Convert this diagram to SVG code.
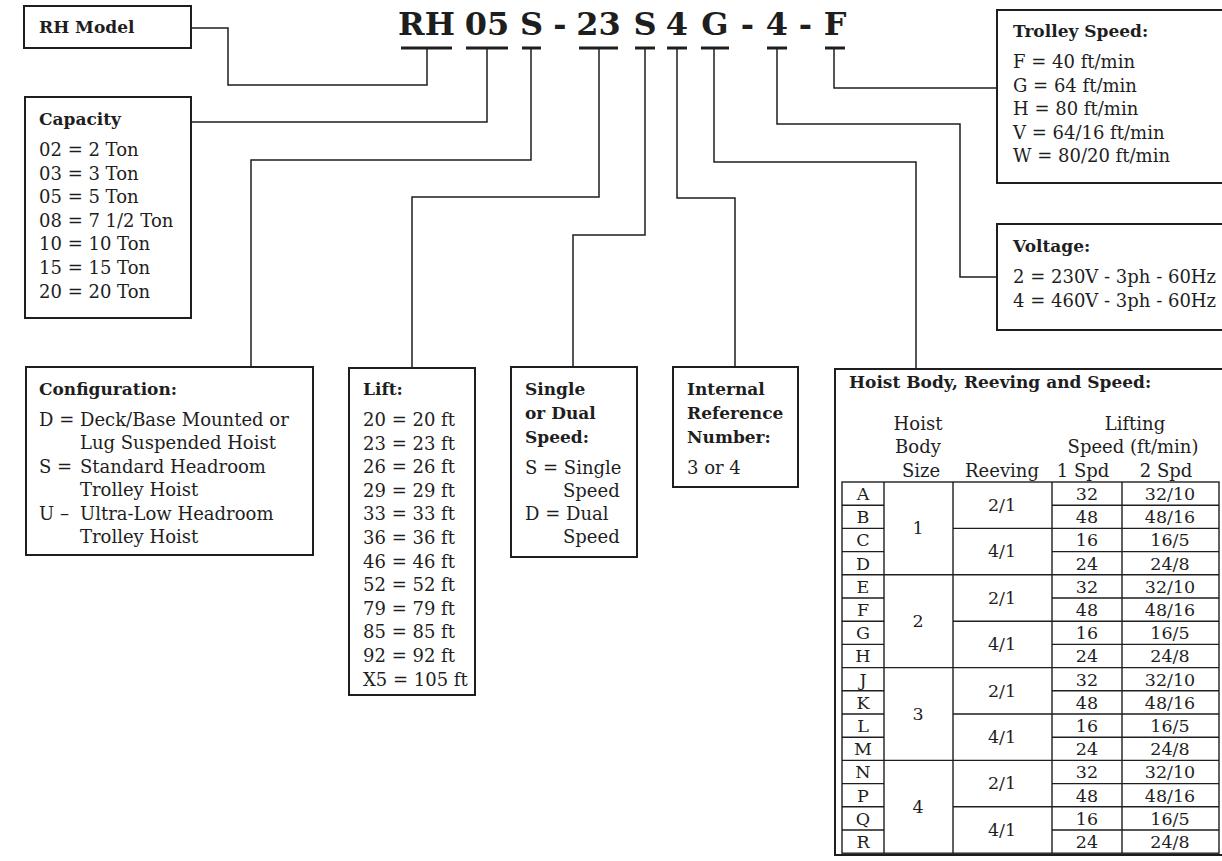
<svg xmlns="http://www.w3.org/2000/svg" width="1222" height="861" viewBox="0 0 1222 861">
<style>
text{font-family:"DejaVu Serif","Liberation Serif",serif;fill:#1e1e1e;font-size:18px}
.code{font-size:32px;font-weight:bold;text-anchor:middle}
.t{font-weight:bold;font-size:17px}
.c{text-anchor:middle}
.cell{text-anchor:middle;font-size:17.5px}
.box{fill:none;stroke:#1e1e1e;stroke-width:2}
.ln{fill:none;stroke:#1e1e1e;stroke-width:1.5}
.ul{stroke:#1e1e1e;stroke-width:3}
.tl{stroke:#1e1e1e;stroke-width:1.4;fill:none}
</style>
<rect width="1222" height="861" fill="#ffffff"/>

<g id="code">
<text class="code" x="426.5" y="35">RH</text>
<text class="code" x="487" y="35">05</text>
<text class="code" x="531.5" y="35">S</text>
<text class="code" x="560" y="35">-</text>
<text class="code" x="598.5" y="35">23</text>
<text class="code" x="645" y="35">S</text>
<text class="code" x="677" y="35">4</text>
<text class="code" x="715" y="35">G</text>
<text class="code" x="747.5" y="35">-</text>
<text class="code" x="777" y="35">4</text>
<text class="code" x="805.5" y="35">-</text>
<text class="code" x="835" y="35">F</text>
<line class="ul" x1="401" y1="48" x2="452" y2="48"/>
<line class="ul" x1="466" y1="48" x2="508" y2="48"/>
<line class="ul" x1="522" y1="48" x2="541" y2="48"/>
<line class="ul" x1="579" y1="48" x2="618" y2="48"/>
<line class="ul" x1="635" y1="48" x2="655" y2="48"/>
<line class="ul" x1="667" y1="48" x2="687" y2="48"/>
<line class="ul" x1="701" y1="48" x2="729" y2="48"/>
<line class="ul" x1="767" y1="48" x2="787" y2="48"/>
<line class="ul" x1="825" y1="48" x2="845" y2="48"/>
</g>

<g id="connectors">
<path class="ln" d="M427,48 V85 H228 V28 H191"/>
<path class="ln" d="M487,48 V122 H191"/>
<path class="ln" d="M531,48 V160 H251 V367"/>
<path class="ln" d="M599,48 V197 H412 V368"/>
<path class="ln" d="M645,48 V235 H573 V367"/>
<path class="ln" d="M677,48 V198 H735 V367"/>
<path class="ln" d="M714,48 V162 H916 V369"/>
<path class="ln" d="M777,48 V124 H960 V277 H997"/>
<path class="ln" d="M834,48 V88 H997"/>
</g>

<g id="rh-model">
<rect class="box" x="24" y="6" width="167" height="42"/>
<text x="39" y="33" style="font-weight:bold;font-size:17px">RH Model</text>
</g>

<g id="capacity">
<rect class="box" x="25" y="97" width="166" height="221"/>
<text class="t" x="39" y="125">Capacity</text>
<text x="39" y="156">02 = 2 Ton</text>
<text x="39" y="179.6">03 = 3 Ton</text>
<text x="39" y="203.2">05 = 5 Ton</text>
<text x="39" y="226.8">08 = 7 1/2 Ton</text>
<text x="39" y="250.4">10 = 10 Ton</text>
<text x="39" y="274">15 = 15 Ton</text>
<text x="39" y="297.6">20 = 20 Ton</text>
</g>

<g id="configuration">
<rect class="box" x="26" y="367" width="287" height="188"/>
<text class="t" x="39" y="395">Configuration:</text>
<text x="39" y="426">D =</text><text x="80" y="426">Deck/Base Mounted or</text>
<text x="80" y="449.4">Lug Suspended Hoist</text>
<text x="39" y="472.8">S =</text><text x="80" y="472.8">Standard Headroom</text>
<text x="80" y="496.2">Trolley Hoist</text>
<text x="39" y="519.6">U –</text><text x="80" y="519.6">Ultra-Low Headroom</text>
<text x="80" y="543">Trolley Hoist</text>
</g>

<g id="lift">
<rect class="box" x="349" y="368" width="126" height="327"/>
<text class="t" x="363" y="395">Lift:</text>
<text x="363" y="426">20 = 20 ft</text>
<text x="363" y="449.6">23 = 23 ft</text>
<text x="363" y="473.2">26 = 26 ft</text>
<text x="363" y="496.8">29 = 29 ft</text>
<text x="363" y="520.4">33 = 33 ft</text>
<text x="363" y="544">36 = 36 ft</text>
<text x="363" y="567.6">46 = 46 ft</text>
<text x="363" y="591.2">52 = 52 ft</text>
<text x="363" y="614.8">79 = 79 ft</text>
<text x="363" y="638.4">85 = 85 ft</text>
<text x="363" y="662">92 = 92 ft</text>
<text x="363" y="685.6">X5 = 105 ft</text>
</g>

<g id="single-dual">
<rect class="box" x="511" y="367" width="126" height="190"/>
<text class="t" x="525" y="395">Single</text>
<text class="t" x="525" y="419">or Dual</text>
<text class="t" x="525" y="443">Speed:</text>
<text x="525" y="474">S = Single</text>
<text x="563" y="497">Speed</text>
<text x="525" y="520">D = Dual</text>
<text x="563" y="543">Speed</text>
</g>

<g id="internal">
<rect class="box" x="673" y="367" width="125" height="120"/>
<text class="t" x="687" y="395">Internal</text>
<text class="t" x="687" y="419">Reference</text>
<text class="t" x="687" y="443">Number:</text>
<text x="687" y="474">3 or 4</text>
</g>

<g id="trolley-speed">
<rect class="box" x="997" y="10" width="240" height="173"/>
<text class="t" x="1013" y="37">Trolley Speed:</text>
<text x="1013" y="68">F = 40 ft/min</text>
<text x="1013" y="91.5">G = 64 ft/min</text>
<text x="1013" y="115">H = 80 ft/min</text>
<text x="1013" y="138.5">V = 64/16 ft/min</text>
<text x="1013" y="162">W = 80/20 ft/min</text>
</g>

<g id="voltage">
<rect class="box" x="997" y="224" width="240" height="106"/>
<text class="t" x="1013" y="252">Voltage:</text>
<text x="1013" y="283">2 = 230V - 3ph - 60Hz</text>
<text x="1013" y="307">4 = 460V - 3ph - 60Hz</text>
</g>

<g id="hoist-body">
<rect class="box" x="835" y="369" width="400" height="486"/>
<text class="t" x="849" y="388">Hoist Body, Reeving and Speed:</text>
<text class="c" x="918" y="430">Hoist</text>
<text class="c" x="918" y="453">Body</text>
<text class="c" x="921" y="477">Size</text>
<text class="c" x="1002" y="477">Reeving</text>
<text class="c" x="1135" y="430">Lifting</text>
<text class="c" x="1133" y="453">Speed (ft/min)</text>
<text class="c" x="1083" y="477">1 Spd</text>
<text class="c" x="1166" y="477">2 Spd</text>

<rect class="tl" x="842" y="482" width="377" height="371.2"/>
<path class="tl" d="M884,482 V853.2 M953,482 V853.2 M1052,482 V853.2 M1122,482 V853.2"/>
<path class="tl" d="M842,574.8 H1219 M842,667.6 H1219 M842,760.4 H1219"/>
<path class="tl" d="M842,528.4 H884 M953,528.4 H1219 M842,621.2 H884 M953,621.2 H1219 M842,714 H884 M953,714 H1219 M842,806.8 H884 M953,806.8 H1219"/>
<path class="tl" d="M842,505.2 H884 M1052,505.2 H1219 M842,551.6 H884 M1052,551.6 H1219 M842,598 H884 M1052,598 H1219 M842,644.4 H884 M1052,644.4 H1219 M842,690.8 H884 M1052,690.8 H1219 M842,737.2 H884 M1052,737.2 H1219 M842,783.6 H884 M1052,783.6 H1219 M842,830 H884 M1052,830 H1219"/>

<g>
<text class="cell" x="863" y="500">A</text><text class="cell" x="1087" y="500">32</text><text class="cell" x="1170" y="500">32/10</text>
<text class="cell" x="863" y="523.2">B</text><text class="cell" x="1087" y="523.2">48</text><text class="cell" x="1170" y="523.2">48/16</text>
<text class="cell" x="863" y="546.4">C</text><text class="cell" x="1087" y="546.4">16</text><text class="cell" x="1170" y="546.4">16/5</text>
<text class="cell" x="863" y="569.6">D</text><text class="cell" x="1087" y="569.6">24</text><text class="cell" x="1170" y="569.6">24/8</text>
<text class="cell" x="863" y="592.8">E</text><text class="cell" x="1087" y="592.8">32</text><text class="cell" x="1170" y="592.8">32/10</text>
<text class="cell" x="863" y="616">F</text><text class="cell" x="1087" y="616">48</text><text class="cell" x="1170" y="616">48/16</text>
<text class="cell" x="863" y="639.2">G</text><text class="cell" x="1087" y="639.2">16</text><text class="cell" x="1170" y="639.2">16/5</text>
<text class="cell" x="863" y="662.4">H</text><text class="cell" x="1087" y="662.4">24</text><text class="cell" x="1170" y="662.4">24/8</text>
<text class="cell" x="863" y="685.6">J</text><text class="cell" x="1087" y="685.6">32</text><text class="cell" x="1170" y="685.6">32/10</text>
<text class="cell" x="863" y="708.8">K</text><text class="cell" x="1087" y="708.8">48</text><text class="cell" x="1170" y="708.8">48/16</text>
<text class="cell" x="863" y="732">L</text><text class="cell" x="1087" y="732">16</text><text class="cell" x="1170" y="732">16/5</text>
<text class="cell" x="863" y="755.2">M</text><text class="cell" x="1087" y="755.2">24</text><text class="cell" x="1170" y="755.2">24/8</text>
<text class="cell" x="863" y="778.4">N</text><text class="cell" x="1087" y="778.4">32</text><text class="cell" x="1170" y="778.4">32/10</text>
<text class="cell" x="863" y="801.6">P</text><text class="cell" x="1087" y="801.6">48</text><text class="cell" x="1170" y="801.6">48/16</text>
<text class="cell" x="863" y="824.8">Q</text><text class="cell" x="1087" y="824.8">16</text><text class="cell" x="1170" y="824.8">16/5</text>
<text class="cell" x="863" y="848">R</text><text class="cell" x="1087" y="848">24</text><text class="cell" x="1170" y="848">24/8</text>
<text class="cell" x="918" y="534.4">1</text>
<text class="cell" x="918" y="627.2">2</text>
<text class="cell" x="918" y="720">3</text>
<text class="cell" x="918" y="812.8">4</text>
<text class="cell" x="1002" y="511">2/1</text>
<text class="cell" x="1002" y="557.4">4/1</text>
<text class="cell" x="1002" y="603.8">2/1</text>
<text class="cell" x="1002" y="650.2">4/1</text>
<text class="cell" x="1002" y="696.6">2/1</text>
<text class="cell" x="1002" y="743">4/1</text>
<text class="cell" x="1002" y="789.4">2/1</text>
<text class="cell" x="1002" y="835.8">4/1</text>
</g>
</g>
</svg>
